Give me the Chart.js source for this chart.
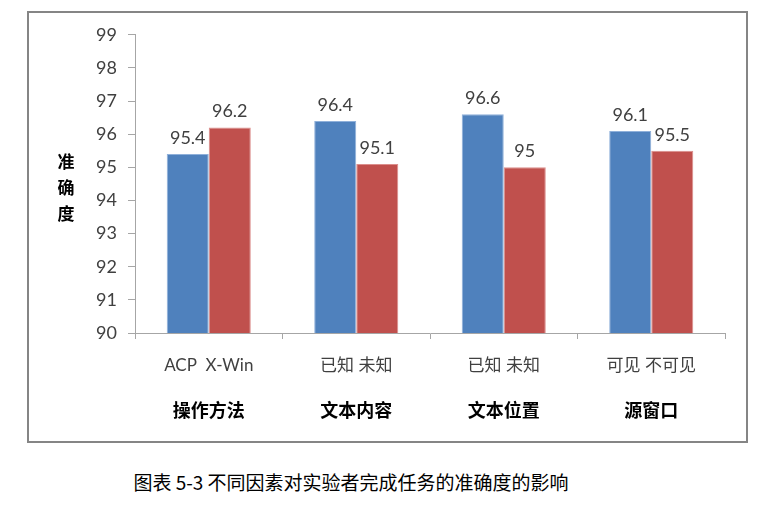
<!DOCTYPE html>
<html>
<head>
<meta charset="utf-8">
<script src="https://cdn.jsdelivr.net/npm/chart.js@4/dist/chart.umd.min.js"></script>
<style>
  body { margin: 0; background: #fff; width: 772px; height: 510px; position: relative; }
  #frame { position: absolute; left: 27px; top: 11px; width: 717px; height: 428px; border: 2px solid #858585; }
  #yTitle { position: absolute; left: 56px; top: 148px; width: 20px; font: bold 17px 'Noto Sans CJK SC'; line-height: 26px; text-align: center; color: #000; }
  #caption { position: absolute; left: 0; width: 702px; top: 468px; text-align: center; font: 19px 'Noto Sans CJK SC'; color: #000; }
</style>
</head>
<body>
<div id="frame"><canvas id="accChart"></canvas></div>
<div id="yTitle">准<br>确<br>度</div>
<div id="caption">图表 5-3 不同因素对实验者完成任务的准确度的影响</div>
<script>
// 数据
const categories = ['ACP  X-Win', '已知 未知', '已知 未知', '可见 不可见'];
const groups = ['操作方法', '文本内容', '文本位置', '源窗口'];
const firstValues = [95.4, 96.4, 96.6, 96.1];
const secondValues = [96.2, 95.1, 95.0, 95.5];
const yTicks = [90, 91, 92, 93, 94, 95, 96, 97, 98, 99];

const numFont = "Lato, 'Noto Sans CJK SC'";

// 柱顶数值标签
const valueLabels = {
    id: 'valueLabels',
    afterDatasetsDraw(chart) {
        const ctx = chart.ctx;
        ctx.save();
        ctx.font = '18px ' + numFont;
        ctx.fillStyle = '#404040';
        ctx.textAlign = 'center';
        ctx.textBaseline = 'bottom';
        chart.data.datasets.forEach((ds, i) => {
            chart.getDatasetMeta(i).data.forEach((bar, j) => {
                ctx.fillText(String(ds.data[j]), bar.x, bar.y - 7);
            });
        });
        ctx.restore();
    }
};

new Chart(document.getElementById('accChart'), {
    type: 'bar',
    data: {
        labels: categories,
        datasets: [{
            data: firstValues,
            backgroundColor: '#4F81BD',
            borderColor: '#8fb0da',
            borderWidth: 1,
            categoryPercentage: 0.57,
            barPercentage: 1
        }, {
            data: secondValues,
            backgroundColor: '#C0504D',
            borderColor: '#dc8e8c',
            borderWidth: 1,
            categoryPercentage: 0.57,
            barPercentage: 1
        }]
    },
    options: {
        responsive: true,
        maintainAspectRatio: false,
        animation: false,
        layout: { padding: { left: 0, top: 20, right: 21, bottom: 0 } },
        plugins: { legend: { display: false }, tooltip: { enabled: false } },
        scales: {
            y: {
                min: 90,
                max: 99,
                afterBuildTicks: (scale) => { scale.ticks = yTicks.map(v => ({ value: v })); },
                afterFit: (scale) => { scale.width = 106; },
                border: { color: '#a6a6a6' },
                grid: { drawOnChartArea: false, tickLength: 7, color: '#a6a6a6' },
                ticks: { padding: 11, color: '#404040', font: { size: 18, family: numFont } }
            },
            x: {
                offset: true,
                afterFit: (scale) => { scale.height = 48; },
                border: { color: '#a6a6a6' },
                grid: { offset: true, drawOnChartArea: false, tickLength: 6, color: '#a6a6a6' },
                ticks: { padding: 16, color: '#404040', font: { size: 17, family: numFont } }
            },
            x2: {
                type: 'category',
                labels: groups,
                position: 'bottom',
                offset: true,
                afterFit: (scale) => { scale.height = 60; },
                border: { display: false },
                grid: { display: false },
                ticks: { padding: 10, color: '#000', font: { size: 18, weight: 'bold', family: "'Noto Sans CJK SC'" } }
            }
        }
    },
    plugins: [valueLabels]
});
</script>
</body>
</html>
